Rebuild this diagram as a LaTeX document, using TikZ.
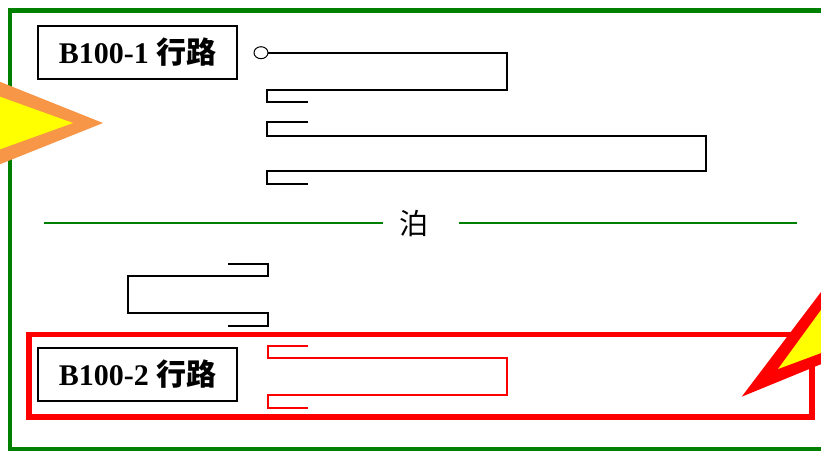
\documentclass[tikz,border=0pt]{standalone}
\usepackage{fontspec}
\setmainfont{Liberation Serif}
\newfontfamily\cjk{Noto Sans CJK SC}
\definecolor{frameg}{RGB}{0,128,0}
\definecolor{orangeb}{HTML}{F79646}
\definecolor{yel}{HTML}{FFFF00}
\definecolor{redc}{HTML}{FF0000}
\begin{document}
\begin{tikzpicture}[x=1pt,y=-1pt,
  wire/.style={line width=2pt,line join=miter},
  redwire/.style={wire,draw=redc},
  titlebox/.style={draw,line width=1.3pt,fill=white,minimum width=199pt,minimum height=53pt,inner sep=0pt,
    font=\fontsize{30}{30}\selectfont},
  sep/.style={draw=frameg,line width=1.6pt}]
\useasboundingbox (0,0) rectangle (821,451);
\clip (0,0) rectangle (821,451);
% outer green frame
\draw[frameg,line width=4.5pt] (10,10.3) rectangle (860,449);
% separator
\node[font=\cjk\fontsize{29}{29}\selectfont] (bo) at (414,224) {泊};
\coordinate (s1) at (44,223);
\coordinate (s2) at (383,223);
\coordinate (s3) at (459,223);
\coordinate (s4) at (797,223);
\draw[sep] (s1) -- (s2);
\draw[sep] (s3) -- (s4);
% title 1
\node[titlebox] (t1) at (137.5,52.5) {\textbf{B100-1} {\cjk\bfseries 行路}};
% circle and wires (upper)
\draw[line width=1pt] (261,52.7) ellipse (7pt and 6pt);
\draw[wire] (268,52.7) -- (507,52.7) -- (507,90) -- (267,90) -- (267,102) -- (308,102);
\draw[wire] (308,122) -- (267,122) -- (267,136) -- (706,136) -- (706,171) -- (267,171) -- (267,184) -- (308,184);
% lower black wire
\draw[wire] (228,264) -- (268,264) -- (268,276) -- (128,276) -- (128,313) -- (268,313) -- (268,326) -- (228,326);
% red frame
\draw[redc,line width=5.5pt] (29,334.5) rectangle (812,417);
% title 2
\node[titlebox] (t2) at (137.5,374.5) {\textbf{B100-2} {\cjk\bfseries 行路}};
% red wire
\draw[redwire] (308,346) -- (268,346) -- (268,358) -- (507,358) -- (507,395) -- (268,395) -- (268,408) -- (308,408);
% left triangle
\fill[orangeb] (103,123) -- (-100,41.8) -- (-100,204.2) -- cycle;
\fill[yel] (73,123) -- (-100,60.7) -- (-100,185.3) -- cycle;
% right triangle
\fill[redc] (741.7,396.7) -- (900,187.7) -- (900,331.8) -- cycle;
\fill[yel] (778,369) -- (900,201.6) -- (900,323.6) -- cycle;
\end{tikzpicture}
\end{document}
